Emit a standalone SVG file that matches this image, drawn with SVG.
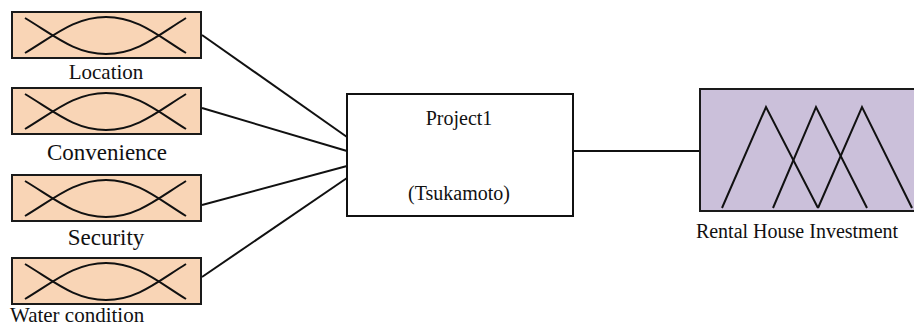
<svg xmlns="http://www.w3.org/2000/svg" xmlns:xlink="http://www.w3.org/1999/xlink" width="914" height="327" viewBox="0 0 914 327">
<style>
  .in { fill: #F9D5B6; stroke: #1a1a1a; stroke-width: 2; }
  .out { fill: #CBC0DA; stroke: #1a1a1a; stroke-width: 2; }
  .proc { fill: #ffffff; stroke: #111111; stroke-width: 2; }
  .curve { fill: none; stroke: #111111; stroke-width: 2; }
  .conn { stroke: #111111; stroke-width: 2; fill: none; }
  text { font-family: "Liberation Serif", "Times New Roman", serif; fill: #111111; }
</style>
<defs>
  <g id="mf">
    <path class="curve" d="M25,6 C55,24 75,42 106,42 C137,42 157,24 186,6"/>
    <path class="curve" d="M25,41 C55,23 75,5 106,5 C137,5 157,23 186,41"/>
  </g>
</defs>
<g id="connectors">
  <line class="conn" x1="202" y1="35" x2="347" y2="137"/>
  <line class="conn" x1="202" y1="108" x2="347" y2="151"/>
  <line class="conn" x1="202" y1="205" x2="347" y2="166"/>
  <line class="conn" x1="202" y1="277" x2="347" y2="178"/>
  <line class="conn" x1="573" y1="151" x2="700" y2="151"/>
</g>
<g id="location">
  <rect class="in" x="12" y="12" width="189" height="46"/>
  <use xlink:href="#mf" href="#mf" transform="translate(0,12)"/>
  <text x="106" y="79" font-size="21" text-anchor="middle">Location</text>
</g>
<g id="convenience">
  <rect class="in" x="12" y="88" width="189" height="46"/>
  <use xlink:href="#mf" href="#mf" transform="translate(0,88)"/>
  <text x="107" y="160" font-size="23" text-anchor="middle">Convenience</text>
</g>
<g id="security">
  <rect class="in" x="12" y="175" width="189" height="46"/>
  <use xlink:href="#mf" href="#mf" transform="translate(0,175)"/>
  <text x="106" y="245" font-size="23" text-anchor="middle">Security</text>
</g>
<g id="water">
  <rect class="in" x="12" y="258" width="189" height="46"/>
  <use xlink:href="#mf" href="#mf" transform="translate(0,258)"/>
  <text x="10" y="322" font-size="21">Water condition</text>
</g>
<g id="project1">
  <rect class="proc" x="347" y="94" width="226" height="122"/>
  <text x="459" y="125" font-size="20" text-anchor="middle">Project1</text>
  <text x="459" y="200" font-size="20" text-anchor="middle">(Tsukamoto)</text>
</g>
<g id="rental">
  <rect class="out" x="700" y="89" width="222" height="122"/>
  <polyline class="curve" points="722,208 766,107 818,208"/>
  <polyline class="curve" points="773,208 816,107 867,208"/>
  <polyline class="curve" points="818,208 862,107 912,208"/>
  <text x="797" y="238" font-size="20" text-anchor="middle">Rental House Investment</text>
</g>
</svg>
